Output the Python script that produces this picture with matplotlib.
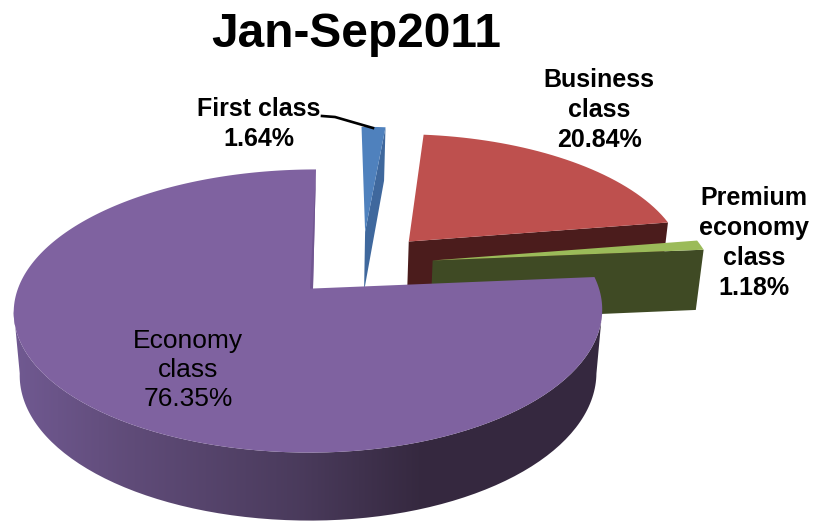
import numpy as np
import matplotlib
matplotlib.use("Agg")
import matplotlib.pyplot as plt
from matplotlib.patches import PathPatch
from matplotlib.path import Path

plt.rcParams['font.family'] = ['Liberation Sans', 'DejaVu Sans']

title = "Jan-Sep2011"
classes = ["First class", "Business\nclass", "Premium\neconomy\nclass", "Economy\nclass"]
shares = [1.64, 20.84, 1.18, 76.35]
top_colors = ["#4F81BD", "#BE504E", "#9BBB59", "#7F62A0"]
wall_colors = ["#3F689D", "#4B1C1C", "#3F4A24", "#4A3A5C"]
label_weights = ["bold", "bold", "bold", "normal"]
label_sizes = [18, 18, 18, 19]
label_spacing = [1.3, 1.3, 1.3, 1.27]
label_centers = [(259, 124), (599, 110), (754, 243), (188, 370)]

# how far each slice is pulled out of the pie, in disc units
explode_u = [0.19, 0.35, 0.43, 0.0]
explode_v = [-0.44, -0.36, -0.21, 0.0]

# perspective of the disc on screen
X0, Y0 = 313, 288.5
F_RIGHT, F_LEFT, G, K, SKEW = 286, 295, 138, 0.159, 3
WALL_SHRINK = 0.98

# shading of the economy rim, from left to right
rim_x = [15, 120, 300, 420, 610]
rim_rgb = [(0.44, 0.35, 0.57), (0.38, 0.30, 0.48), (0.29, 0.23, 0.36),
           (0.21, 0.16, 0.25), (0.21, 0.16, 0.25)]


def project(u, v):
    """Map disc coordinates to top face pixels."""
    w = 1 - K * v
    f = np.where(u < 0, F_LEFT, F_RIGHT)
    return X0 + f * u / w - SKEW * v, Y0 + G * v / w


def project_bottom(u, v):
    """Same point on the underside of the pie."""
    x, y = project(u, v)
    return X0 + WALL_SHRINK * (x - X0), y + 62 + 6 * v


def arc(theta):
    # angles run clockwise from twelve o'clock
    return np.sin(theta), -np.cos(theta)


fig = plt.figure(figsize=(8.22, 5.21), dpi=100)
ax = fig.add_axes([0, 0, 1, 1])
ax.axis("off")

edges = np.cumsum([0] + shares) / sum(shares) * 2 * np.pi

# back to front: business, first class, premium, economy
for i in [1, 0, 2, 3]:
    du, dv = explode_u[i], explode_v[i]
    theta = np.linspace(edges[i], edges[i + 1], 240 if i == 3 else 40)
    au, av = arc(theta)
    u = np.concatenate([[du], du + au])
    v = np.concatenate([[dv], dv + av])
    x, y = project(u, v)

    if i == 3:
        # rim of the big slice: a horizontal gradient clipped to the front of the
        # arc, closed between the widest points of the two faces
        front = av > 0.15
        rx, ry = project(du + au[front], dv + av[front])
        bx, by = project_bottom(du + au[front], dv + av[front])
        rim = Path(np.column_stack([np.concatenate([rx, bx[::-1]]),
                                    np.concatenate([ry, by[::-1]])]))
        columns = np.arange(822) + 0.5
        gradient = np.stack([np.interp(columns, rim_x, [c[k] for c in rim_rgb])
                             for k in range(3)], axis=-1)[np.newaxis, :, :]
        image = ax.imshow(gradient, extent=(0, 822, 521, 0), aspect="auto", zorder=i)
        image.set_clip_path(PathPatch(rim, transform=ax.transData))
    else:
        # cut face along the slice's clockwise edge
        bx, by = project_bottom(u, v)
        ax.fill([x[0], x[-1], bx[-1], bx[0]], [y[0], y[-1], by[-1], by[0]],
                color=wall_colors[i], lw=0, zorder=i)

    ax.fill(x, y, color=top_colors[i], lw=0, zorder=i + 0.5)

    if i == 3:
        # thin visible part of the cut at twelve o'clock
        ax.fill([x[-1], x[0], x[0] - 3], [y[-1], y[0], y[0]],
                color="#715691", lw=0, zorder=i + 0.6)

ax.set_xlim(0, 822)
ax.set_ylim(521, 0)

for k, name in enumerate(classes):
    cx, cy = label_centers[k]
    ax.text(cx, cy, f"{name}\n{shares[k]:.2f}%", ha="center", va="center",
            fontsize=label_sizes[k], fontweight=label_weights[k],
            linespacing=label_spacing[k], color="black", zorder=10)

# leader for the first class label
ax.plot([322, 335, 373], [116, 117, 128], color="black", lw=1.9, zorder=10)

ax.text(356, 47, title, ha="center", va="baseline", fontsize=34.5,
        fontweight="bold", color="black", zorder=10)

fig.savefig("out.png", dpi=100)
